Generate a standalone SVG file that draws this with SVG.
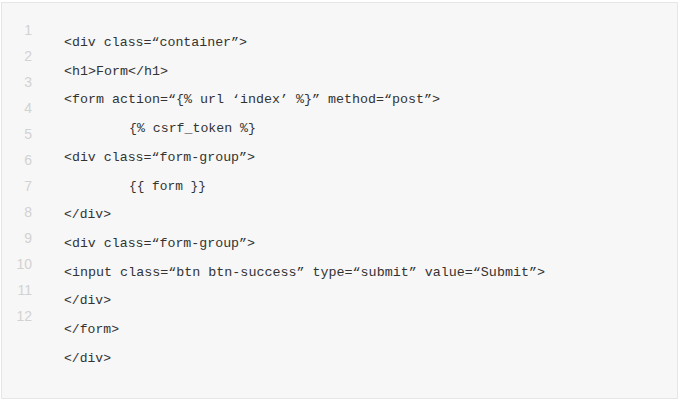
<svg xmlns="http://www.w3.org/2000/svg" width="679" height="404" viewBox="0 0 679 404">
<style>
.ln{font-family:"Liberation Sans",Arial,sans-serif;font-size:14px;fill:#d2d2d2;text-anchor:end}
.cd{font-family:"Liberation Mono","DejaVu Sans Mono",monospace;font-size:13.5px;fill:#333333}
</style>
<rect id="panel" x="1.5" y="2.5" width="676" height="396" fill="#f7f7f7" stroke="#e6e6e6" stroke-width="1"/>
<g id="line-numbers">
<text class="ln" x="32" y="35">1</text>
<text class="ln" x="32" y="61">2</text>
<text class="ln" x="32" y="87">3</text>
<text class="ln" x="32" y="113">4</text>
<text class="ln" x="32" y="139">5</text>
<text class="ln" x="32" y="165">6</text>
<text class="ln" x="32" y="191">7</text>
<text class="ln" x="32" y="217">8</text>
<text class="ln" x="32" y="243">9</text>
<text class="ln" x="32" y="269">10</text>
<text class="ln" x="32" y="295">11</text>
<text class="ln" x="32" y="321">12</text>
</g>
<g id="code">
<text class="cd" x="64" y="46" textLength="183" lengthAdjust="spacingAndGlyphs">&lt;div class=“container”&gt;</text>
<text class="cd" x="64" y="74.7" textLength="104" lengthAdjust="spacingAndGlyphs">&lt;h1&gt;Form&lt;/h1&gt;</text>
<text class="cd" x="64" y="103.4" textLength="376" lengthAdjust="spacingAndGlyphs">&lt;form action=“{% url ‘index’ %}” method=“post”&gt;</text>
<text class="cd" x="129" y="132.1" textLength="127" lengthAdjust="spacingAndGlyphs">{% csrf_token %}</text>
<text class="cd" x="64" y="160.8" textLength="191" lengthAdjust="spacingAndGlyphs">&lt;div class=“form-group”&gt;</text>
<text class="cd" x="129" y="189.5" textLength="77" lengthAdjust="spacingAndGlyphs">{{ form }}</text>
<text class="cd" x="64" y="218.2" textLength="47" lengthAdjust="spacingAndGlyphs">&lt;/div&gt;</text>
<text class="cd" x="64" y="246.9" textLength="191" lengthAdjust="spacingAndGlyphs">&lt;div class=“form-group”&gt;</text>
<text class="cd" x="64" y="275.6" textLength="481" lengthAdjust="spacingAndGlyphs">&lt;input class=“btn btn-success” type=“submit” value=“Submit”&gt;</text>
<text class="cd" x="64" y="304.3" textLength="47" lengthAdjust="spacingAndGlyphs">&lt;/div&gt;</text>
<text class="cd" x="64" y="333" textLength="55" lengthAdjust="spacingAndGlyphs">&lt;/form&gt;</text>
<text class="cd" x="64" y="361.7" textLength="47" lengthAdjust="spacingAndGlyphs">&lt;/div&gt;</text>
</g>
</svg>
